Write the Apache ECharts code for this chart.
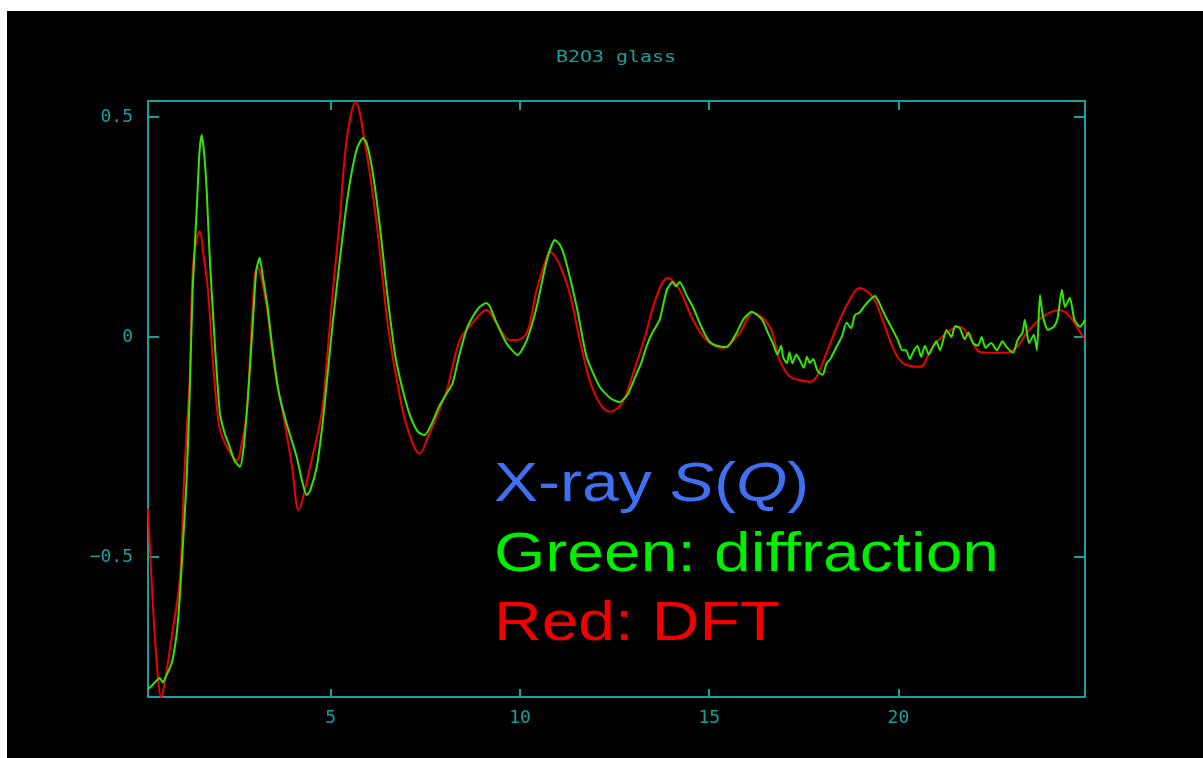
<!DOCTYPE html>
<html>
<head>
<meta charset="utf-8">
<title>B2O3 glass</title>
<script src="https://cdn.jsdelivr.net/npm/echarts@6/dist/echarts.min.js"></script>
<style>
  html, body { margin: 0; padding: 0; background: #ffffff; width: 1203px; height: 758px; overflow: hidden; }
  #chart { position: absolute; left: 7px; top: 11px; width: 1196px; height: 747px; background: #000000; }
</style>
</head>
<body>
<div id="chart"></div>
<script>
// Structure factor S(Q) of B2O3 glass: DFT model vs. X-ray diffraction
const titleText = 'B2O3 glass';

const xTicks = [5, 10, 15, 20];
const yTicks = [-0.5, 0, 0.5];
const yTickLabels = ['\u22120.5', '0', '0.5'];

// DFT curve (red): Q values and S(Q)
const dftQ = [
  0.17, 0.30, 0.42, 0.52, 0.62, 0.80, 1.01, 1.12, 1.20, 1.27,
  1.35, 1.45, 1.54, 1.63, 1.75, 1.88, 1.99, 2.07, 2.25, 2.52,
  2.65, 2.78, 2.88, 2.99, 3.07, 3.15, 3.31, 3.45, 3.57, 3.73,
  3.97, 4.15, 4.25, 4.44, 4.76, 4.90, 5.05, 5.23, 5.42, 5.66,
  5.89, 6.21, 6.50, 6.75, 7.00, 7.35, 7.60, 7.85, 8.07, 8.41,
  8.75, 9.11, 9.38, 9.72, 9.90, 10.18, 10.44, 10.71, 10.79, 11.23,
  11.58, 11.84, 12.10, 12.37, 12.70, 13.00, 13.30, 13.60, 13.90, 14.20,
  14.57, 14.93, 15.36, 15.80, 16.16, 16.60, 16.86, 17.13, 17.39, 17.66,
  17.84, 18.10, 18.45, 18.71, 18.97, 19.32, 19.58, 19.85, 20.11, 20.56,
  20.90, 21.27, 21.62, 21.88, 22.15, 22.50, 22.86, 23.13, 23.39, 23.82,
  24.26, 24.53, 24.88, 24.93
];
const dftS = [
  -0.39, -0.61, -0.76, -0.82, -0.78, -0.68, -0.55, -0.33, -0.20, -0.10,
  0.15, 0.22, 0.24, 0.19, 0.11, -0.05, -0.16, -0.21, -0.25, -0.28,
  -0.24, -0.17, -0.02, 0.136, 0.159, 0.14, 0.068, -0.03, -0.10, -0.17,
  -0.29, -0.393, -0.37, -0.30, -0.173, -0.05, 0.10, 0.259, 0.448, 0.534,
  0.448, 0.259, 0.032, -0.10, -0.20, -0.265, -0.22, -0.17, -0.12, -0.007,
  0.032, 0.061, 0.032, -0.007, -0.007, 0.009, 0.107, 0.182, 0.193, 0.123,
  -0.007, -0.098, -0.15, -0.17, -0.15, -0.08, 0.0, 0.09, 0.134, 0.11,
  0.039, -0.007, -0.025, 0.009, 0.055, 0.023, -0.052, -0.09, -0.098, -0.102,
  -0.09, -0.036, 0.039, 0.084, 0.111, 0.091, 0.039, -0.023, -0.059, -0.068,
  -0.023, 0.009, 0.023, 0.0, -0.034, -0.036, -0.036, -0.023, 0.009, 0.046,
  0.061, 0.046, 0.0, -0.005
];

// Diffraction data (green): Q values and S(Q)
const expQ = [
  0.17, 0.30, 0.48, 0.56, 0.65, 0.80, 0.93, 1.01, 1.09, 1.19,
  1.27, 1.35, 1.46, 1.53, 1.59, 1.65, 1.72, 1.80, 1.93, 2.07,
  2.20, 2.33, 2.45, 2.60, 2.70, 2.80, 2.88, 2.94, 3.03, 3.12,
  3.20, 3.33, 3.45, 3.57, 3.65, 3.83, 3.95, 4.10, 4.25, 4.36,
  4.45, 4.63, 4.78, 4.90, 5.05, 5.23, 5.40, 5.55, 5.70, 5.85,
  5.95, 6.11, 6.30, 6.48, 6.70, 6.90, 7.10, 7.30, 7.48, 7.65,
  7.85, 8.05, 8.22, 8.40, 8.60, 8.75, 8.93, 9.11, 9.20, 9.38,
  9.64, 9.94, 10.18, 10.44, 10.71, 10.92, 11.05, 11.18, 11.50, 11.76,
  12.11, 12.40, 12.63, 12.85, 13.05, 13.20, 13.35, 13.50, 13.69, 13.88,
  14.03, 14.12, 14.22, 14.40, 14.57, 14.83, 15.01, 15.20, 15.46, 15.72,
  15.90, 16.12, 16.40, 16.55, 16.68, 16.80, 16.90, 16.95, 17.05, 17.12,
  17.20, 17.30, 17.39, 17.50, 17.58, 17.66, 17.75, 17.85, 17.92, 18.00,
  18.10, 18.20, 18.36, 18.50, 18.63, 18.75, 18.85, 18.97, 19.10, 19.24,
  19.38, 19.48, 19.58, 19.70, 19.85, 20.00, 20.10, 20.20, 20.30, 20.38,
  20.50, 20.60, 20.70, 20.80, 20.90, 21.00, 21.10, 21.27, 21.40, 21.50,
  21.62, 21.75, 21.85, 21.97, 22.10, 22.20, 22.30, 22.45, 22.60, 22.75,
  22.86, 23.03, 23.15, 23.28, 23.34, 23.45, 23.58, 23.66, 23.74, 23.82,
  23.95, 24.10, 24.20, 24.32, 24.40, 24.53, 24.65, 24.80, 24.93
];
const expS = [
  -0.80, -0.79, -0.775, -0.785, -0.77, -0.74, -0.673, -0.59, -0.477, -0.325,
  -0.136, 0.107, 0.295, 0.42, 0.459, 0.42, 0.334, 0.182, -0.007, -0.173,
  -0.22, -0.25, -0.28, -0.295, -0.25, -0.15, -0.05, 0.032, 0.15, 0.18,
  0.14, 0.068, -0.02, -0.098, -0.136, -0.196, -0.23, -0.273, -0.33, -0.359,
  -0.35, -0.295, -0.20, -0.098, 0.03, 0.168, 0.29, 0.373, 0.43, 0.452,
  0.44, 0.373, 0.25, 0.107, -0.04, -0.12, -0.18, -0.215, -0.223, -0.20,
  -0.16, -0.13, -0.105, -0.04, 0.02, 0.046, 0.068, 0.077, 0.07, 0.032,
  -0.014, -0.041, -0.007, 0.068, 0.175, 0.22, 0.21, 0.182, 0.068, -0.045,
  -0.114, -0.14, -0.148, -0.13, -0.09, -0.06, -0.02, 0.01, 0.039, 0.107,
  0.125, 0.115, 0.125, 0.095, 0.068, 0.016, -0.011, -0.02, -0.023, 0.009,
  0.04, 0.057, 0.039, 0.01, -0.014, -0.04, -0.02, -0.045, -0.06, -0.035,
  -0.06, -0.04, -0.052, -0.07, -0.045, -0.059, -0.05, -0.075, -0.082, -0.086,
  -0.06, -0.05, -0.023, 0.0, 0.032, 0.02, 0.05, 0.055, 0.07, 0.084,
  0.093, 0.08, 0.061, 0.04, 0.016, -0.01, -0.03, -0.03, -0.05, -0.036,
  -0.02, -0.045, -0.02, -0.04, -0.025, -0.01, -0.03, 0.016, 0.0, 0.025,
  0.02, -0.005, 0.01, -0.014, -0.02, 0.0, -0.025, -0.014, -0.03, -0.01,
  -0.023, -0.036, -0.007, 0.01, 0.039, -0.014, 0.005, -0.03, 0.095, 0.046,
  0.016, 0.023, 0.04, 0.107, 0.068, 0.089, 0.039, 0.023, 0.039
];

const frameColor = '#16a0a0';
const dftColor = '#ee0000';
const expColor = '#33e600';

const zip = (xs, ys) => xs.map((x, i) => [x, ys[i]]);

const chart = echarts.init(document.getElementById('chart'), null, { renderer: 'canvas' });

const axisLineStyle = { show: true, onZero: false, lineStyle: { color: frameColor, width: 2 } };
const labelFont = { color: frameColor, fontFamily: 'DejaVu Sans Mono', fontSize: 18 };

chart.setOption({
  backgroundColor: '#000000',
  animation: false,
  grid: { left: 141, top: 90, width: 937, height: 596, show: false },
  xAxis: [
    {
      type: 'value', position: 'bottom', min: 0.17, max: 24.93,
      axisLine: axisLineStyle,
      axisTick: { show: true, inside: true, length: 8, customValues: xTicks, lineStyle: { color: frameColor, width: 2 } },
      axisLabel: Object.assign({ customValues: xTicks, margin: 12 }, labelFont),
      splitLine: { show: false }
    },
    {
      type: 'value', position: 'top', min: 0.17, max: 24.93,
      axisLine: axisLineStyle,
      axisTick: { show: true, inside: true, length: 9, customValues: xTicks, lineStyle: { color: frameColor, width: 2 } },
      axisLabel: { show: false },
      splitLine: { show: false }
    }
  ],
  yAxis: [
    {
      type: 'value', position: 'left', min: -0.818, max: 0.536,
      axisLine: axisLineStyle,
      axisTick: { show: true, inside: true, length: 11, customValues: yTicks, lineStyle: { color: frameColor, width: 2 } },
      axisLabel: Object.assign({
        customValues: yTicks, margin: 15,
        formatter: v => yTickLabels[yTicks.indexOf(v)] !== undefined ? yTickLabels[yTicks.indexOf(v)] : String(v)
      }, labelFont),
      splitLine: { show: false }
    },
    {
      type: 'value', position: 'right', min: -0.818, max: 0.536,
      axisLine: axisLineStyle,
      axisTick: { show: true, inside: true, length: 11, customValues: yTicks, lineStyle: { color: frameColor, width: 2 } },
      axisLabel: { show: false },
      splitLine: { show: false }
    }
  ],
  series: [
    {
      name: 'DFT', type: 'line', data: zip(dftQ, dftS),
      showSymbol: false, smooth: 0.35, clip: true,
      lineStyle: { color: dftColor, width: 2 }
    },
    {
      name: 'diffraction', type: 'line', data: zip(expQ, expS),
      showSymbol: false, smooth: 0.2, clip: true,
      lineStyle: { color: expColor, width: 2 }
    }
  ],
  graphic: [
    {
      type: 'text', x: 609, y: 47, scaleX: 1.33,
      style: { text: titleText, fill: frameColor, font: '15px "DejaVu Sans Mono"', align: 'center', verticalAlign: 'middle' }
    },
    {
      type: 'text', x: 487, y: 475, scaleX: 1.2,
      style: {
        text: 'X-ray {i|S}({i|Q})', fill: '#3f6ff2',
        font: '55px "Liberation Sans", Arial, sans-serif', align: 'left', verticalAlign: 'middle',
        rich: { i: { fontStyle: 'italic', fontSize: 55, fontFamily: 'Liberation Sans', fill: '#3f6ff2' } }
      }
    },
    {
      type: 'text', x: 487, y: 545, scaleX: 1.2,
      style: { text: 'Green: diffraction', fill: '#00ee00', font: '55px "Liberation Sans", Arial, sans-serif', align: 'left', verticalAlign: 'middle' }
    },
    {
      type: 'text', x: 487, y: 614, scaleX: 1.2,
      style: { text: 'Red: DFT', fill: '#f20000', font: '55px "Liberation Sans", Arial, sans-serif', align: 'left', verticalAlign: 'middle' }
    }
  ]
});
</script>
</body>
</html>
